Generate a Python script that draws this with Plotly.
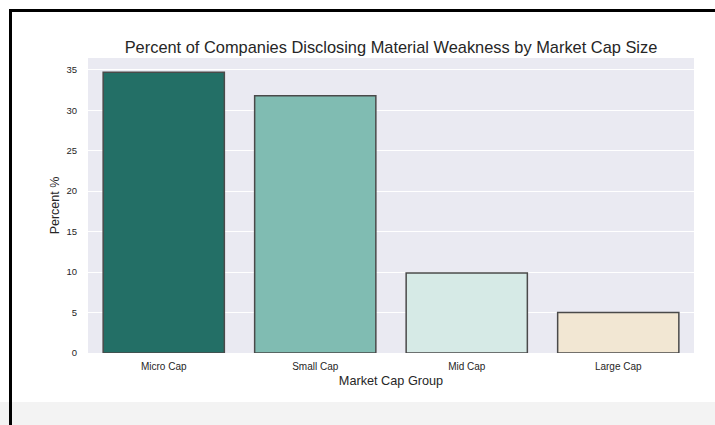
import plotly.graph_objects as go

categories = ["Micro Cap", "Small Cap", "Mid Cap", "Large Cap"]
percent = [34.7, 31.8, 9.9, 5.0]
bar_colors = ["#236f66", "#80bcb2", "#d6eae6", "#f2e7d3"]
y_ticks = [0, 5, 10, 15, 20, 25, 30, 35]

FONT = "Liberation Sans, Arial, sans-serif"

fig = go.Figure(
    go.Bar(
        x=categories,
        y=percent,
        width=0.8,
        marker=dict(color=bar_colors, line=dict(color="#4a4a4a", width=1.5)),
        hoverinfo="x+y",
    )
)

fig.update_layout(
    width=715,
    height=425,
    margin=dict(l=88, r=21, t=58, b=72),
    paper_bgcolor="white",
    plot_bgcolor="#eaeaf2",
    showlegend=False,
    font=dict(family=FONT, color="#262626"),
    title=dict(
        text="Percent of Companies Disclosing Material Weakness by Market Cap Size",
        x=(88 + 694) / 2 / 715,
        xanchor="center",
        y=1 - 47 / 425,
        yanchor="middle",
        font=dict(size=16.4, color="#262626", family=FONT),
    ),
    xaxis=dict(
        showgrid=False,
        zeroline=False,
        showline=False,
        ticks="",
        tickfont=dict(size=10, color="#262626"),
        ticklabelstandoff=6,
        title=dict(text="Market Cap Group", font=dict(size=12.7, color="#262626"), standoff=5),
    ),
    yaxis=dict(
        range=[0, 36.45],
        tickvals=y_ticks,
        showgrid=True,
        gridcolor="white",
        gridwidth=1,
        zeroline=False,
        showline=False,
        ticks="",
        tickfont=dict(size=9.5, color="#262626"),
        ticklabelstandoff=10,
        title=dict(text="Percent %", font=dict(size=12.5, color="#262626"), standoff=4),
    ),
    shapes=[
        # grey band at bottom of the screenshot
        dict(type="rect", xref="paper", yref="paper",
             x0=-88 / 606, x1=1 + 21 / 606, y0=-72 / 295, y1=-(402 - 353) / 295,
             fillcolor="#f3f3f3", line=dict(width=0), layer="below"),
        # black frame lines (left and top)
        dict(type="line", xref="paper", yref="paper",
             x0=-(88 - 10.5) / 606, x1=-(88 - 10.5) / 606, y0=-72 / 295, y1=1 + (58 - 9) / 295,
             line=dict(color="black", width=3)),
        dict(type="line", xref="paper", yref="paper",
             x0=-(88 - 9) / 606, x1=1 + 21 / 606, y0=1 + (58 - 10.5) / 295, y1=1 + (58 - 10.5) / 295,
             line=dict(color="black", width=3)),
    ],
)

fig.write_html(
    "out.html",
    config={"displayModeBar": False},
    post_script="document.body.style.margin='0';",
)
